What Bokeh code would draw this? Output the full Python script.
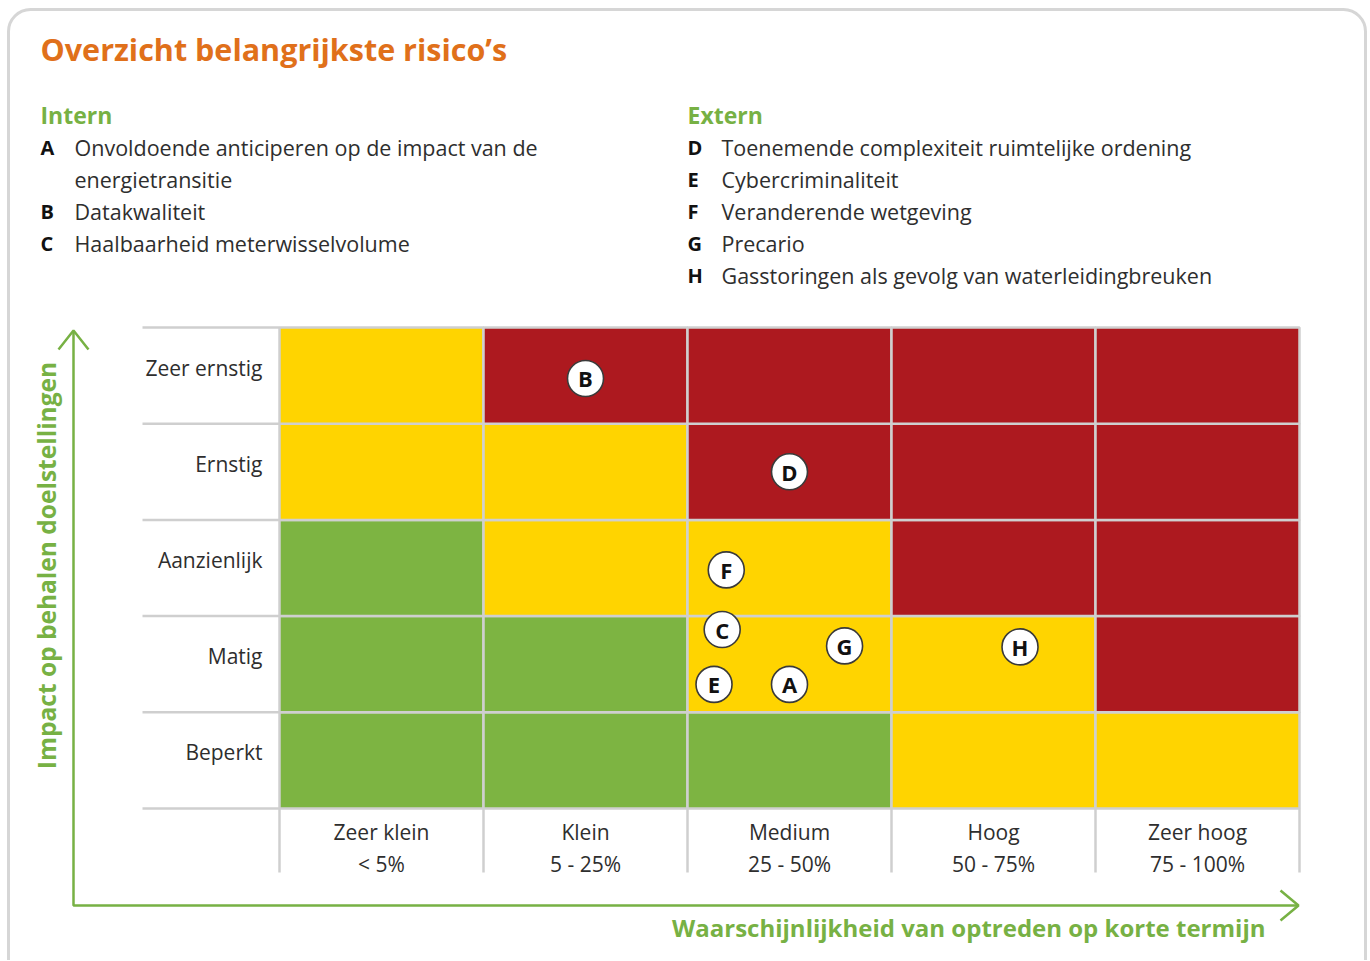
from bokeh.plotting import figure
from bokeh.models import Range1d, ColumnDataSource
from bokeh.core.properties import value
from bokeh.embed import file_html
from bokeh.resources import INLINE

# ---------------- data ----------------
title_text = "Overzicht belangrijkste risico’s"
intern_title = "Intern"
intern_letters = ["A", "B", "C"]
intern_texts = ["Onvoldoende anticiperen op de impact van de\nenergietransitie",
                "Datakwaliteit",
                "Haalbaarheid meterwisselvolume"]
extern_title = "Extern"
extern_letters = ["D", "E", "F", "G", "H"]
extern_texts = ["Toenemende complexiteit ruimtelijke ordening",
                "Cybercriminaliteit",
                "Veranderende wetgeving",
                "Precario",
                "Gasstoringen als gevolg van waterleidingbreuken"]

impact_labels = ["Beperkt", "Matig", "Aanzienlijk", "Ernstig", "Zeer ernstig"]  # bottom -> top
likelihood_labels = ["Zeer klein", "Klein", "Medium", "Hoog", "Zeer hoog"]
likelihood_ranges = ["< 5%", "5 - 25%", "25 - 50%", "50 - 75%", "75 - 100%"]

# risk level per cell (rows bottom->top, columns left->right): 0 green, 1 yellow, 2 red
risk_levels = [
    [0, 0, 0, 1, 1],   # Beperkt
    [0, 0, 1, 1, 2],   # Matig
    [0, 1, 1, 2, 2],   # Aanzienlijk
    [1, 1, 2, 2, 2],   # Ernstig
    [1, 2, 2, 2, 2],   # Zeer ernstig
]
level_colors = ["#7DB442", "#FFD400", "#AD191F"]

# risks: position in (likelihood, impact) category units
risk_ids = ["A", "B", "C", "D", "E", "F", "G", "H"]
risk_x = [2.50, 1.50, 2.17, 2.50, 2.13, 2.19, 2.77, 3.63]
risk_y = [1.29, 4.47, 1.86, 3.50, 1.29, 2.48, 1.69, 1.68]

x_axis_title = "Waarschijnlijkheid van optreden op korte termijn"
y_axis_title = "Impact op behalen doelstellingen"

# ---------------- layout helpers ----------------
W, H = 1368, 960
OX, OY = 0, 0             # page position of the canvas
X0, CW = 279.0, 204.0     # page x of grid left edge, column width
Y0, RH = 808.0, 96.2      # page y of grid bottom edge, row height
TY = -2                   # vertical nudge for text


def px(xp):
    return (xp - X0) / CW


def py(yp):
    return (Y0 - yp) / RH


def ty(yp):
    return py(yp + TY)


FONT = "Open Sans"
GREEN = "#77B144"
ORANGE = "#E0701A"
TXT = "#2E2E2E"
FS = "21px"

p = figure(width=W, height=H, output_backend="svg", toolbar_location=None,
           x_range=Range1d(px(OX), px(OX + W)), y_range=Range1d(py(OY + H), py(OY)),
           min_border=0, min_border_left=0, min_border_right=0,
           min_border_top=0, min_border_bottom=0)
p.axis.visible = False
p.grid.visible = False
p.outline_line_color = None
p.background_fill_color = "white"
p.border_fill_color = "white"

# outer rounded frame
p.quad(left=[px(8)], right=[px(1365)], top=[py(9)], bottom=[py(985)],
       fill_color=None, line_color="#D6D6D6", line_width=3, border_radius=22)

# ---------------- grid cells ----------------
cl, cr, cb, ct, cc = [], [], [], [], []
for r, row in enumerate(risk_levels):
    for c, lev in enumerate(row):
        cl.append(c); cr.append(c + 1); cb.append(r); ct.append(r + 1)
        cc.append(level_colors[lev])
p.quad(left=cl, right=cr, bottom=cb, top=ct, fill_color=cc,
       line_color="#CFCFCF", line_width=2.5)

# label-area lines
nrows = len(impact_labels)
ncols = len(likelihood_labels)
p.segment(x0=[px(142)] * (nrows + 1), y0=list(range(nrows + 1)),
          x1=[0] * (nrows + 1), y1=list(range(nrows + 1)),
          line_color="#CFCFCF", line_width=2.5)
p.segment(x0=list(range(ncols + 1)), y0=[0] * (ncols + 1),
          x1=list(range(ncols + 1)), y1=[py(872)] * (ncols + 1),
          line_color="#CFCFCF", line_width=2.5)

# row labels
p.text(x=[px(262)] * nrows, y=[r + 0.5 + (6 - TY) / RH for r in range(nrows)], text=impact_labels,
       text_font=value(FONT), text_font_size=FS, text_color=TXT,
       text_align="right", text_baseline="middle")

# column labels
p.text(x=[c + 0.5 for c in range(ncols)], y=[ty(833)] * ncols, text=likelihood_labels,
       text_font=value(FONT), text_font_size=FS, text_color=TXT,
       text_align="center", text_baseline="middle")
p.text(x=[c + 0.5 for c in range(ncols)], y=[ty(865)] * ncols, text=likelihood_ranges,
       text_font=value(FONT), text_font_size=FS, text_color=TXT,
       text_align="center", text_baseline="middle")

# risk markers
src = ColumnDataSource(dict(x=risk_x, y=risk_y, t=risk_ids))
p.scatter("x", "y", source=src, size=36, fill_color="white",
          line_color="#3A3A3A", line_width=1.6)
p.text("x", "y", text="t", source=src, text_font=value(FONT), text_font_style="bold",
       text_font_size="22px", text_color="#111111",
       text_align="center", text_baseline="middle")

# ---------------- axes arrows ----------------
p.line(x=[px(73), px(73), px(1297)], y=[py(331), py(905), py(905)],
       line_color=GREEN, line_width=2.5)
p.line(x=[px(58), px(73), px(88)], y=[py(349), py(330), py(349)],
       line_color=GREEN, line_width=2.5)
p.line(x=[px(1280), px(1298), px(1280)], y=[py(890), py(905), py(920)],
       line_color=GREEN, line_width=2.5)

p.text(x=[px(1265)], y=[ty(929)], text=[x_axis_title], text_font=value(FONT),
       text_font_style="bold", text_font_size="24px", text_color=GREEN,
       text_align="right", text_baseline="middle")
p.text(x=[px(48 + TY)], y=[py(565)], text=[y_axis_title], text_font=value(FONT),
       text_font_style="bold", text_font_size="24.5px", text_color=GREEN,
       text_align="center", text_baseline="middle", angle=1.5708)

# ---------------- title & legend ----------------
p.text(x=[px(40)], y=[ty(50)], text=[title_text], text_font=value(FONT),
       text_font_style="bold", text_font_size="30.5px", text_color=ORANGE,
       text_align="left", text_baseline="middle")


def legend_block(x_letter, x_text, heading, letters, texts):
    p.text(x=[px(x_letter)], y=[ty(116)], text=[heading], text_font=value(FONT),
           text_font_style="bold", text_font_size="23px", text_color=GREEN,
           text_align="left", text_baseline="middle")
    lx, ly, lt, tx, tyy, tt = [], [], [], [], [], []
    yy = 149
    for L, T in zip(letters, texts):
        lx.append(px(x_letter)); ly.append(ty(yy)); lt.append(L)
        for line in T.split("\n"):
            tx.append(px(x_text)); tyy.append(ty(yy)); tt.append(line)
            yy += 32
    p.text(x=lx, y=ly, text=lt, text_font=value(FONT), text_font_style="bold",
           text_font_size="20px", text_color="#111111",
           text_align="left", text_baseline="middle")
    p.text(x=tx, y=tyy, text=tt, text_font=value(FONT),
           text_font_size="21.5px", text_color=TXT,
           text_align="left", text_baseline="middle")


legend_block(40, 74, intern_title, intern_letters, intern_texts)
legend_block(687, 721, extern_title, extern_letters, extern_texts)

open("out.html", "w").write(file_html(p, INLINE))
